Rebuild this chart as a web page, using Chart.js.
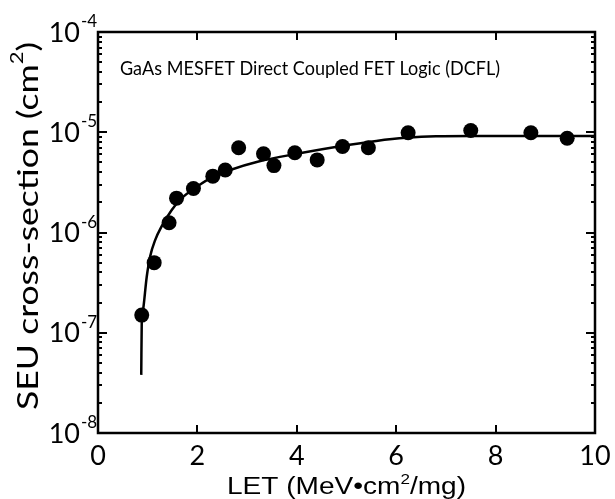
<!DOCTYPE html>
<html>
<head>
<meta charset="utf-8">
<script src="https://cdn.jsdelivr.net/npm/chart.js@4/dist/chart.umd.min.js"></script>
<style>
  body { margin: 0; background: #fff; }
  canvas { display: block; }
</style>
</head>
<body>
<canvas id="chart" width="615" height="499"></canvas>
<script>
  'use strict';

  /* Data */
  const letPoints = [0.88, 1.13, 1.43, 1.58, 1.92, 2.31, 2.56, 2.83, 3.33, 3.54, 3.96, 4.41, 4.92, 5.44, 6.24, 7.5, 8.71, 9.44];
  const seuPoints = [1.5e-7, 5.0e-7, 1.25e-6, 2.2e-6, 2.75e-6, 3.65e-6, 4.2e-6, 7.0e-6, 6.1e-6, 4.65e-6, 6.25e-6, 5.3e-6, 7.2e-6, 7.0e-6, 9.9e-6, 1.04e-5, 9.9e-6, 8.7e-6];

  const letFit = [0.87, 0.88, 0.90, 0.98, 1.05, 1.15, 1.28, 1.48, 1.68, 1.99, 2.32, 2.66, 3.23, 4.0, 4.9, 5.6, 6.2, 6.8, 7.5, 10];
  const seuFit = [3.8e-8, 1.25e-7, 1.6e-7, 3.6e-7, 5.8e-7, 8.4e-7, 1.15e-6, 1.67e-6, 2.19e-6, 2.86e-6, 3.6e-6, 4.2e-6, 5.1e-6, 6.1e-6, 7.3e-6, 8.2e-6, 8.8e-6, 9.1e-6, 9.15e-6, 9.15e-6];

  const xTicks = [0, 2, 4, 6, 8, 10];
  const yDecades = [-8, -7, -6, -5, -4];

  const note = 'GaAs MESFET Direct Coupled FET Logic (DCFL)';

  function toXY(xs, ys) {
    return xs.map(function (x, i) { return { x: x, y: ys[i] }; });
  }

  // draws text made of pieces (for superscripts), optionally squeezed to a width
  function drawParts(ctx, parts, x, y, align, fitWidth) {
    let total = 0;
    const widths = parts.map(function (p) {
      ctx.font = p.font;
      const w = ctx.measureText(p.text).width;
      total += w;
      return w;
    });
    const sx = fitWidth ? fitWidth / total : 1;
    const startX = align === 'center' ? x - total * sx / 2 : x;
    ctx.save();
    ctx.translate(startX, y);
    ctx.scale(sx, 1);
    ctx.textAlign = 'left';
    ctx.textBaseline = 'alphabetic';
    let cx = 0;
    parts.forEach(function (p, i) {
      ctx.font = p.font;
      ctx.fillText(p.text, cx, p.dy || 0);
      cx += widths[i];
    });
    ctx.restore();
  }

  /* Frame, ticks and labels */
  const framePlugin = {
    id: 'frame',
    afterDraw: function (chart) {
      const ctx = chart.ctx;
      const a = chart.chartArea;
      const xs = chart.scales.x;
      const ys = chart.scales.y;

      ctx.save();
      ctx.strokeStyle = '#000';
      ctx.fillStyle = '#000';

      ctx.lineWidth = 2;
      ctx.beginPath();
      [2, 4, 6, 8].forEach(function (v) {
        const px = Math.round(xs.getPixelForValue(v));
        ctx.moveTo(px, a.bottom); ctx.lineTo(px, a.bottom - 8);
        ctx.moveTo(px, a.top); ctx.lineTo(px, a.top + 8);
      });
      yDecades.forEach(function (k) {
        const py = Math.round(ys.getPixelForValue(Math.pow(10, k)));
        ctx.moveTo(a.left, py); ctx.lineTo(a.left + 9, py);
        ctx.moveTo(a.right, py); ctx.lineTo(a.right - 9, py);
        if (k === -4) return;
        for (let m = 2; m <= 9; m++) {
          const pm = Math.round(ys.getPixelForValue(m * Math.pow(10, k)));
          ctx.moveTo(a.left, pm); ctx.lineTo(a.left + 4, pm);
          ctx.moveTo(a.right, pm); ctx.lineTo(a.right - 4, pm);
        }
      });
      ctx.stroke();

      ctx.lineWidth = 2.5;
      ctx.strokeRect(a.left, a.top, a.right - a.left, a.bottom - a.top);

      // x tick labels
      ctx.font = '27px Lato';
      ctx.textAlign = 'center';
      ctx.textBaseline = 'alphabetic';
      xTicks.forEach(function (v) {
        ctx.fillText(String(v), xs.getPixelForValue(v), 465);
      });

      // y tick labels 10^k
      yDecades.forEach(function (k) {
        const py = ys.getPixelForValue(Math.pow(10, k));
        ctx.font = '27px Lato';
        ctx.textAlign = 'right';
        ctx.textBaseline = 'middle';
        ctx.fillText('10', 80, py + 1);
        ctx.font = '17px Lato';
        ctx.textAlign = 'left';
        ctx.textBaseline = 'alphabetic';
        ctx.fillText('-' + Math.abs(k), 81, py - 5);
      });

      // axis titles
      drawParts(ctx, [
        { text: 'LET (MeV\u2022cm', font: '23px "Liberation Sans"' },
        { text: '2', font: '14px "Liberation Sans"', dy: -10 },
        { text: '/mg)', font: '23px "Liberation Sans"' }
      ], (a.left + a.right) / 2, 494, 'center', 239);

      ctx.save();
      ctx.translate(38, 226);
      ctx.rotate(-Math.PI / 2);
      drawParts(ctx, [
        { text: 'SEU cross-section (cm', font: '29px Lato' },
        { text: '2', font: '18px Lato', dy: -15 },
        { text: ')', font: '29px Lato' }
      ], 0, 0, 'center', 368);
      ctx.restore();

      drawParts(ctx, [{ text: note, font: '19px Lato' }], 120, 75, 'left', 380);

      ctx.restore();
    }
  };

  function initChart() {
    const ctx = document.getElementById('chart').getContext('2d');

    // eslint-disable-next-line no-undef
    const chart = new Chart(ctx, {
      type: 'scatter',
      data: {
        datasets: [{
            type: 'line',
            data: toXY(letFit, seuFit),
            borderColor: '#000',
            borderWidth: 2.5,
            pointRadius: 0,
            fill: false,
            cubicInterpolationMode: 'monotone',
          },
          {
            data: toXY(letPoints, seuPoints),
            backgroundColor: '#000',
            borderWidth: 0,
            pointRadius: 7.5,
          }
        ]
      },
      options: {
        responsive: false,
        animation: false,
        layout: { padding: { left: 98, right: 20, top: 32, bottom: 66 } },
        plugins: { legend: { display: false }, tooltip: { enabled: false } },
        scales: {
          x: { type: 'linear', min: 0, max: 10, display: false },
          y: { type: 'logarithmic', min: 1e-8, max: 1e-4, display: false }
        }
      },
      plugins: [framePlugin]
    });
    return chart;
  }

  initChart();
</script>
</body>
</html>
